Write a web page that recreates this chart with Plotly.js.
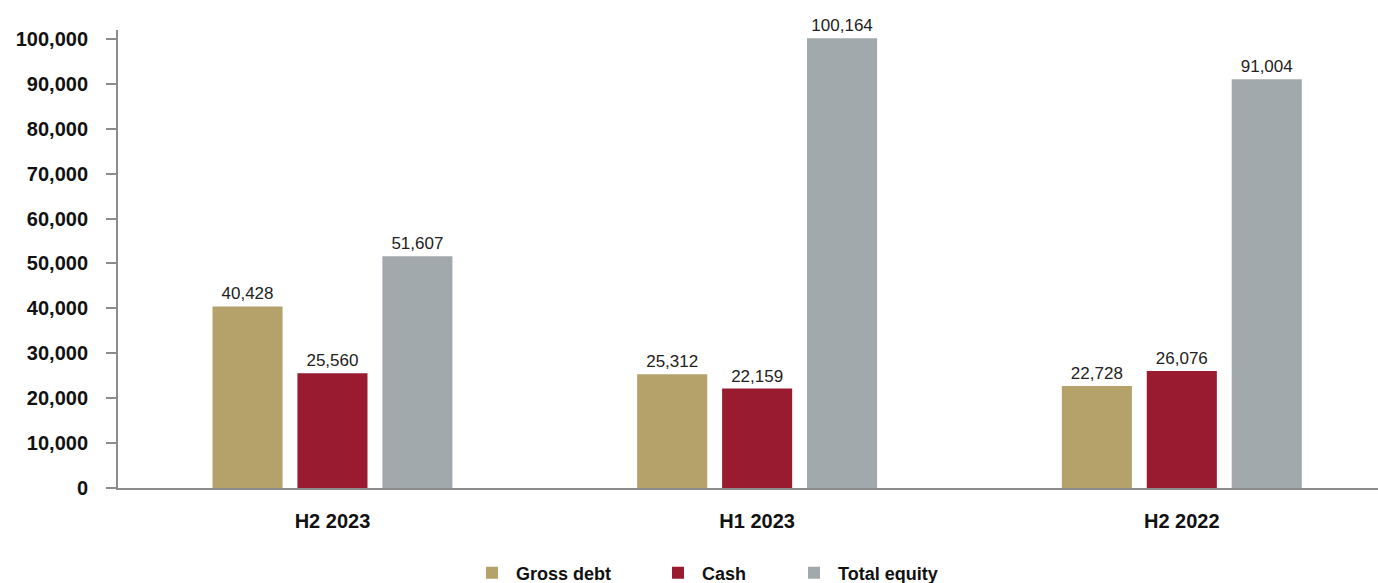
<!DOCTYPE html>
<html>
<head>
<meta charset="utf-8">
<script src="https://cdn.plot.ly/plotly-3.0.1.min.js"></script>
<style>html,body{margin:0;padding:0;background:#fff;}#chart{width:1378px;height:583px;}</style>
</head>
<body>
<div id="chart"></div>
<script>
const categories = ["H2 2023", "H1 2023", "H2 2022"];
const grossDebt = [40428, 25312, 22728];
const cash = [25560, 22159, 26076];
const totalEquity = [51607, 100164, 91004];
const seriesNames = ["Gross debt", "Cash", "Total equity"];
const seriesColors = ["#B4A26A", "#981B30", "#A2A9AC"];
const yTicks = [0, 10000, 20000, 30000, 40000, 50000, 60000, 70000, 80000, 90000, 100000];

const FONT = "Liberation Sans, Arial, sans-serif";
const fmt = v => v.toLocaleString("en-US");
const seriesValues = [grossDebt, cash, totalEquity];
const legendIds = ["legend", "legend2", "legend3"];
const legendX = [468, 654, 790];

const traces = seriesValues.map((vals, i) => ({
  type: "bar",
  name: seriesNames[i],
  x: categories,
  y: vals,
  marker: {color: seriesColors[i]},
  text: vals.map(fmt),
  textposition: "outside",
  textfont: {family: FONT, size: 17, color: "#222"},
  cliponaxis: false,
  hoverinfo: "none",
  legend: legendIds[i]
}));

const legendBase = x => ({
  orientation: "h", xref: "container", yref: "container",
  x: x / 1378, xanchor: "left", y: 10 / 583, yanchor: "middle",
  itemwidth: 38,
  font: {family: FONT, size: 18, color: "#111", weight: "bold"},
  bgcolor: "rgba(0,0,0,0)"
});

const layout = {
  width: 1378, height: 583,
  margin: {l: 118, r: 0, t: 30, b: 95},
  paper_bgcolor: "#fff", plot_bgcolor: "#fff",
  barmode: "group",
  bargap: 0.4,
  bargroupgap: 0.175,
  showlegend: true,
  legend: legendBase(legendX[0]),
  legend2: legendBase(legendX[1]),
  legend3: legendBase(legendX[2]),
  xaxis: {
    type: "category",
    range: [-0.505, 2.462],
    showline: true, linecolor: "#8c8c8c", linewidth: 2,
    ticks: "", showgrid: false, zeroline: false,
    tickfont: {family: FONT, size: 20, color: "#111", weight: "bold"},
    ticklabelstandoff: 14
  },
  yaxis: {
    range: [0, 102000],
    tickvals: yTicks,
    ticktext: yTicks.map(fmt),
    showline: true, linecolor: "#8c8c8c", linewidth: 2,
    ticks: "outside", ticklen: 10, tickcolor: "#8c8c8c", tickwidth: 2,
    showgrid: false, zeroline: false,
    tickfont: {family: FONT, size: 20, color: "#111", weight: "bold"},
    ticklabelstandoff: 14
  },
  font: {family: FONT}
};

Plotly.newPlot("chart", traces, layout, {staticPlot: true, displayModeBar: false});
</script>
</body>
</html>
